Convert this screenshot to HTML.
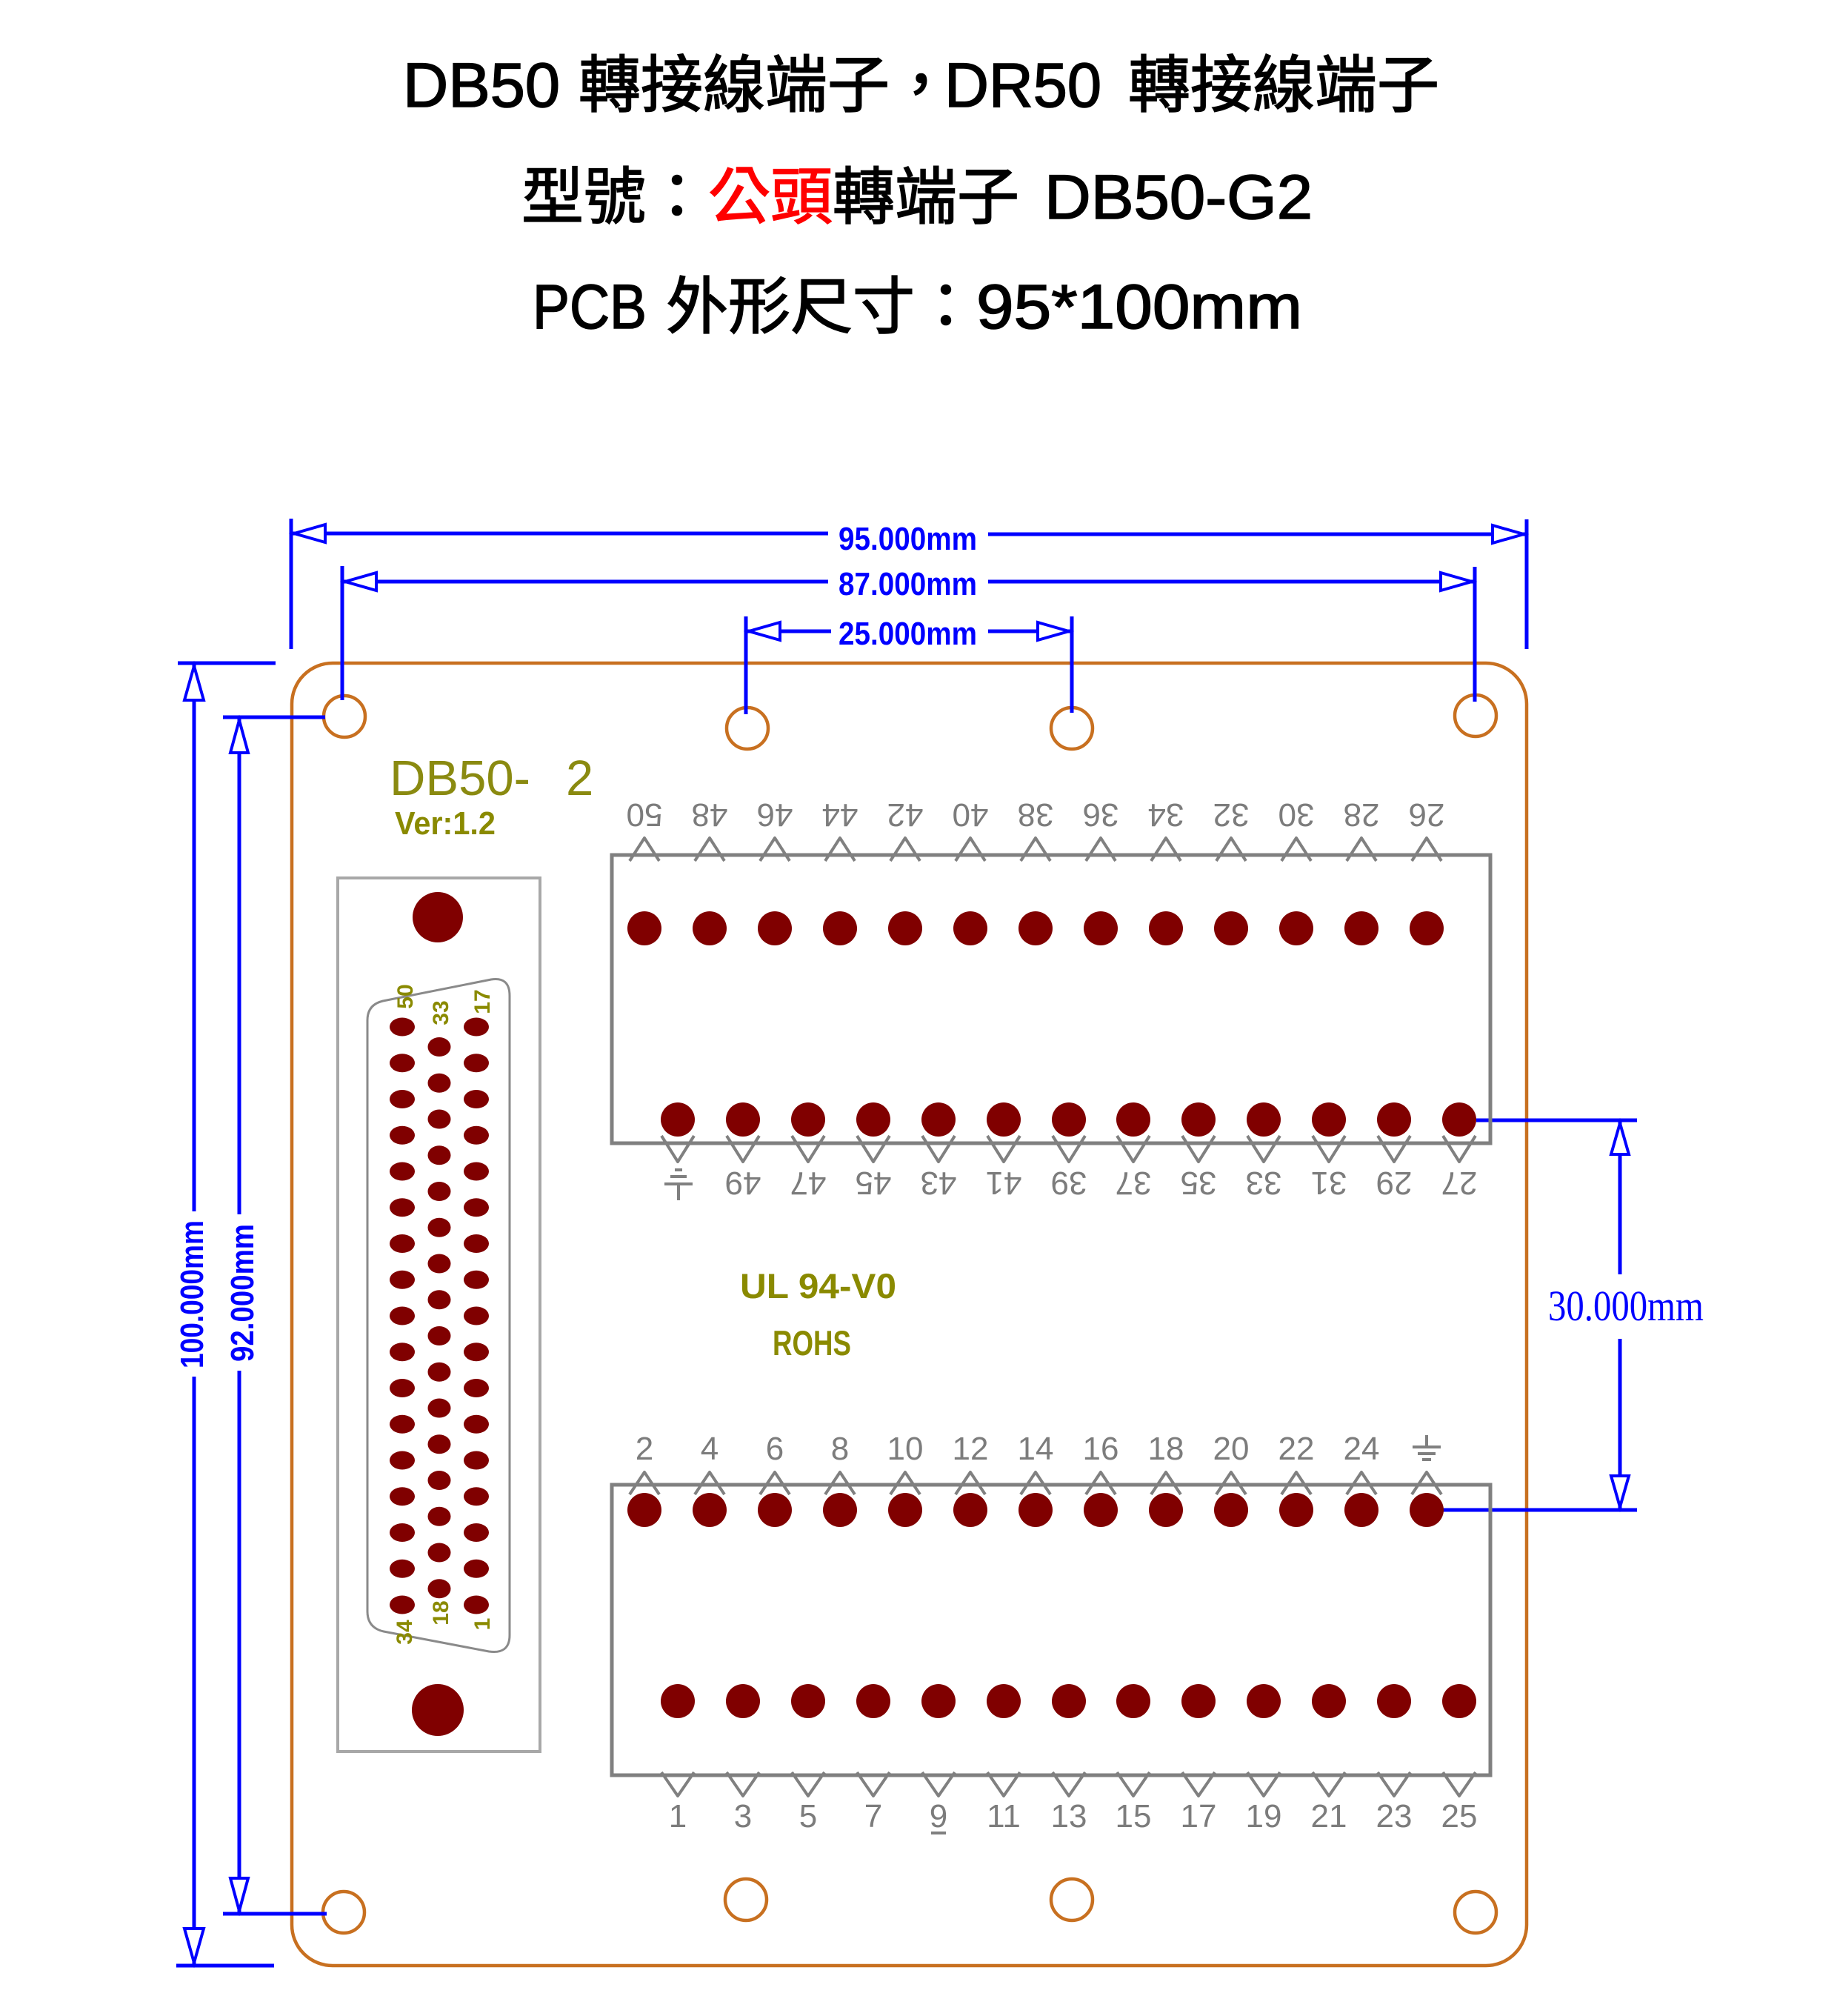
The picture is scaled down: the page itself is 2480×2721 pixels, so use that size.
<!DOCTYPE html>
<html>
<head>
<meta charset="utf-8">
<style>
  html,body{margin:0;padding:0;background:#fff;}
  svg{display:block;}
  .t{font-family:"Liberation Sans","Noto Sans CJK TC",sans-serif;font-size:84px;fill:#000;stroke:#000;stroke-width:1.6px;}
  .lbl{font-family:"Liberation Sans",sans-serif;font-size:44px;fill:#7c7c7c;}
  .dim{font-family:"Liberation Sans",sans-serif;font-size:44px;font-weight:bold;fill:#0000ff;}
  .ol{font-family:"Liberation Sans",sans-serif;fill:#8a8a10;}
  .olb{font-family:"Liberation Sans",sans-serif;font-weight:bold;fill:#8a8a00;}
</style>
</head>
<body>
<svg width="2480" height="2721" viewBox="0 0 2480 2721" xmlns="http://www.w3.org/2000/svg">
<rect x="0" y="0" width="2480" height="2721" fill="#fff"/>

<!-- Titles -->
<text class="t" x="544" y="144" textLength="212" lengthAdjust="spacingAndGlyphs">DB50</text>
<text class="t" x="781" y="144">轉接線端子，</text>
<text class="t" x="1275" y="144" textLength="212" lengthAdjust="spacingAndGlyphs">DR50</text>
<text class="t" x="1523" y="144">轉接線端子</text>
<text class="t" y="295"><tspan x="704">型號：</tspan><tspan fill="#ff0000" stroke="#ff0000">公頭</tspan><tspan>轉端子</tspan></text>
<text class="t" x="1410" y="295" textLength="362" lengthAdjust="spacingAndGlyphs">DB50-G2</text>
<text class="t" x="719" y="443" textLength="154" lengthAdjust="spacingAndGlyphs">PCB</text>
<text class="t" x="899" y="443">外形尺寸：</text>
<text class="t" x="1318" y="443" textLength="440" lengthAdjust="spacingAndGlyphs">95*100mm</text>

<!-- Board outline -->
<rect x="394" y="895" width="1667" height="1758" rx="55" ry="55" fill="none" stroke="#c87020" stroke-width="4.5"/>

<!-- Mounting holes -->
<g fill="none" stroke="#c87020" stroke-width="4.5">
  <circle cx="465" cy="967" r="28"/>
  <circle cx="1009" cy="983" r="28"/>
  <circle cx="1447" cy="983" r="28"/>
  <circle cx="1992" cy="966" r="28"/>
  <circle cx="464" cy="2581" r="28"/>
  <circle cx="1007" cy="2564" r="28"/>
  <circle cx="1447" cy="2564" r="28"/>
  <circle cx="1992" cy="2581" r="28"/>
</g>

<!-- Blue dimensions -->
<g stroke="#0000ff" stroke-width="5" fill="none">
  <line x1="393" y1="700" x2="393" y2="876"/>
  <line x1="2061" y1="701" x2="2061" y2="876"/>
  <line x1="393" y1="720" x2="1118" y2="720"/>
  <line x1="1334" y1="721" x2="2061" y2="721"/>
  <line x1="462" y1="764" x2="462" y2="945"/>
  <line x1="1991" y1="765" x2="1991" y2="947"/>
  <line x1="462" y1="785" x2="1118" y2="785"/>
  <line x1="1334" y1="785" x2="1991" y2="785"/>
  <line x1="1007" y1="832" x2="1007" y2="964"/>
  <line x1="1447" y1="832" x2="1447" y2="962"/>
  <line x1="1007" y1="852" x2="1122" y2="852"/>
  <line x1="1334" y1="852" x2="1447" y2="852"/>
  <line x1="240" y1="895" x2="372" y2="895"/>
  <line x1="238" y1="2653" x2="370" y2="2653"/>
  <line x1="262" y1="895" x2="262" y2="1635"/>
  <line x1="262" y1="1858" x2="262" y2="2653"/>
  <line x1="301" y1="968" x2="439" y2="968"/>
  <line x1="301" y1="2583" x2="441" y2="2583"/>
  <line x1="323" y1="968" x2="323" y2="1639"/>
  <line x1="323" y1="1850" x2="323" y2="2583"/>
  <line x1="1993" y1="1512" x2="2210" y2="1512"/>
  <line x1="1947" y1="2038" x2="2210" y2="2038"/>
  <line x1="2187" y1="1512" x2="2187" y2="1720"/>
  <line x1="2187" y1="1807" x2="2187" y2="2038"/>
</g>
<g stroke="#0000ff" stroke-width="4" fill="#fff" stroke-linejoin="miter">
  <polygon points="397,720 439,708 439,732"/>
  <polygon points="2057,721 2015,709 2015,733"/>
  <polygon points="466,785 508,773 508,797"/>
  <polygon points="1987,785 1945,773 1945,797"/>
  <polygon points="1011,852 1053,840 1053,864"/>
  <polygon points="1443,852 1401,840 1401,864"/>
  <polygon points="262,899 249,945 275,945"/>
  <polygon points="262,2649 249,2603 275,2603"/>
  <polygon points="323,972 311,1016 335,1016"/>
  <polygon points="323,2579 311,2535 335,2535"/>
  <polygon points="2187,1516 2175,1558 2199,1558"/>
  <polygon points="2187,2034 2175,1992 2199,1992"/>
</g>
<text class="dim" x="1132" y="742" textLength="187" lengthAdjust="spacingAndGlyphs">95.000mm</text>
<text class="dim" x="1132" y="803" textLength="187" lengthAdjust="spacingAndGlyphs">87.000mm</text>
<text class="dim" x="1132" y="870" textLength="187" lengthAdjust="spacingAndGlyphs">25.000mm</text>
<text class="dim" font-size="46" transform="translate(258,1747) rotate(-90)" x="-100" y="16" textLength="200" lengthAdjust="spacingAndGlyphs">100.000mm</text>
<text class="dim" font-size="46" transform="translate(326,1745) rotate(-90)" x="-93" y="16" textLength="186" lengthAdjust="spacingAndGlyphs">92.000mm</text>
<text x="2090" y="1782" font-family="Liberation Serif, serif" font-size="58" fill="#0000ff" textLength="210" lengthAdjust="spacingAndGlyphs">30.000mm</text>

<!-- Board silk text -->
<text class="ol" x="526" y="1073" font-size="67" textLength="190" lengthAdjust="spacingAndGlyphs">DB50-</text>
<text class="ol" x="764" y="1073" font-size="67">2</text>
<text class="olb" x="533" y="1126" font-size="44" textLength="136" lengthAdjust="spacingAndGlyphs">Ver:1.2</text>
<text class="olb" x="999" y="1752" font-size="47" textLength="211" lengthAdjust="spacingAndGlyphs">UL 94-V0</text>
<text class="olb" x="1043" y="1829" font-size="47" textLength="106" lengthAdjust="spacingAndGlyphs">ROHS</text>

<!-- DB connector -->
<rect x="456" y="1185" width="273" height="1179" fill="none" stroke="#a8a8a8" stroke-width="4"/>
<circle cx="591" cy="1238" r="34" fill="#800000"/>
<circle cx="591" cy="2308" r="35" fill="#800000"/>
<path d="M496 1377 Q496 1356 517 1351 L663 1322 Q688 1318 688 1344 L688 2207 Q688 2233 660 2229 L518 2202 Q496 2197 496 2175 Z" fill="none" stroke="#8a8a8a" stroke-width="3"/>
<g fill="#800000">
  <ellipse cx="543" cy="1386" rx="17" ry="12.5"/>
  <ellipse cx="543" cy="1434.75" rx="17" ry="12.5"/>
  <ellipse cx="543" cy="1483.5" rx="17" ry="12.5"/>
  <ellipse cx="543" cy="1532.25" rx="17" ry="12.5"/>
  <ellipse cx="543" cy="1581" rx="17" ry="12.5"/>
  <ellipse cx="543" cy="1629.75" rx="17" ry="12.5"/>
  <ellipse cx="543" cy="1678.5" rx="17" ry="12.5"/>
  <ellipse cx="543" cy="1727.25" rx="17" ry="12.5"/>
  <ellipse cx="543" cy="1776" rx="17" ry="12.5"/>
  <ellipse cx="543" cy="1824.75" rx="17" ry="12.5"/>
  <ellipse cx="543" cy="1873.5" rx="17" ry="12.5"/>
  <ellipse cx="543" cy="1922.25" rx="17" ry="12.5"/>
  <ellipse cx="543" cy="1971" rx="17" ry="12.5"/>
  <ellipse cx="543" cy="2019.75" rx="17" ry="12.5"/>
  <ellipse cx="543" cy="2068.5" rx="17" ry="12.5"/>
  <ellipse cx="543" cy="2117.25" rx="17" ry="12.5"/>
  <ellipse cx="543" cy="2166" rx="17" ry="12.5"/>
  <ellipse cx="643" cy="1386" rx="17" ry="12.5"/>
  <ellipse cx="643" cy="1434.75" rx="17" ry="12.5"/>
  <ellipse cx="643" cy="1483.5" rx="17" ry="12.5"/>
  <ellipse cx="643" cy="1532.25" rx="17" ry="12.5"/>
  <ellipse cx="643" cy="1581" rx="17" ry="12.5"/>
  <ellipse cx="643" cy="1629.75" rx="17" ry="12.5"/>
  <ellipse cx="643" cy="1678.5" rx="17" ry="12.5"/>
  <ellipse cx="643" cy="1727.25" rx="17" ry="12.5"/>
  <ellipse cx="643" cy="1776" rx="17" ry="12.5"/>
  <ellipse cx="643" cy="1824.75" rx="17" ry="12.5"/>
  <ellipse cx="643" cy="1873.5" rx="17" ry="12.5"/>
  <ellipse cx="643" cy="1922.25" rx="17" ry="12.5"/>
  <ellipse cx="643" cy="1971" rx="17" ry="12.5"/>
  <ellipse cx="643" cy="2019.75" rx="17" ry="12.5"/>
  <ellipse cx="643" cy="2068.5" rx="17" ry="12.5"/>
  <ellipse cx="643" cy="2117.25" rx="17" ry="12.5"/>
  <ellipse cx="643" cy="2166" rx="17" ry="12.5"/>
  <ellipse cx="593" cy="1413" rx="15.5" ry="13"/>
  <ellipse cx="593" cy="1461.75" rx="15.5" ry="13"/>
  <ellipse cx="593" cy="1510.5" rx="15.5" ry="13"/>
  <ellipse cx="593" cy="1559.25" rx="15.5" ry="13"/>
  <ellipse cx="593" cy="1608" rx="15.5" ry="13"/>
  <ellipse cx="593" cy="1656.75" rx="15.5" ry="13"/>
  <ellipse cx="593" cy="1705.5" rx="15.5" ry="13"/>
  <ellipse cx="593" cy="1754.25" rx="15.5" ry="13"/>
  <ellipse cx="593" cy="1803" rx="15.5" ry="13"/>
  <ellipse cx="593" cy="1851.75" rx="15.5" ry="13"/>
  <ellipse cx="593" cy="1900.5" rx="15.5" ry="13"/>
  <ellipse cx="593" cy="1949.25" rx="15.5" ry="13"/>
  <ellipse cx="593" cy="1998" rx="15.5" ry="13"/>
  <ellipse cx="593" cy="2046.75" rx="15.5" ry="13"/>
  <ellipse cx="593" cy="2095.5" rx="15.5" ry="13"/>
  <ellipse cx="593" cy="2144.25" rx="15.5" ry="13"/>
</g>
<g class="olb" font-size="30" text-anchor="middle">
  <text transform="translate(546,1345) rotate(-90)" y="11">50</text>
  <text transform="translate(594,1367) rotate(-90)" y="11">33</text>
  <text transform="translate(650,1352) rotate(-90)" y="11">17</text>
  <text transform="translate(545,2203) rotate(-90)" y="11">34</text>
  <text transform="translate(594,2177) rotate(-90)" y="11">18</text>
  <text transform="translate(650,2192) rotate(-90)" y="11">1</text>
</g>

<!-- Terminal blocks -->
<rect x="826" y="1154" width="1186" height="389" fill="none" stroke="#808080" stroke-width="5"/>
<rect x="826" y="2004" width="1186" height="392" fill="none" stroke="#808080" stroke-width="5"/>

<!-- Λ / V marks -->
<g fill="none" stroke="#808080" stroke-width="4" stroke-linejoin="round">
  <polyline points="850,1162 870,1131 890,1162"/>
  <polyline points="938,1162 958,1131 978,1162"/>
  <polyline points="1026,1162 1046,1131 1066,1162"/>
  <polyline points="1114,1162 1134,1131 1154,1162"/>
  <polyline points="1202,1162 1222,1131 1242,1162"/>
  <polyline points="1290,1162 1310,1131 1330,1162"/>
  <polyline points="1378,1162 1398,1131 1418,1162"/>
  <polyline points="1466,1162 1486,1131 1506,1162"/>
  <polyline points="1554,1162 1574,1131 1594,1162"/>
  <polyline points="1642,1162 1662,1131 1682,1162"/>
  <polyline points="1730,1162 1750,1131 1770,1162"/>
  <polyline points="1818,1162 1838,1131 1858,1162"/>
  <polyline points="1906,1162 1926,1131 1946,1162"/>
  <polyline points="893,1533 915,1568 937,1533"/>
  <polyline points="981,1533 1003,1568 1025,1533"/>
  <polyline points="1069,1533 1091,1568 1113,1533"/>
  <polyline points="1157,1533 1179,1568 1201,1533"/>
  <polyline points="1245,1533 1267,1568 1289,1533"/>
  <polyline points="1333,1533 1355,1568 1377,1533"/>
  <polyline points="1421,1533 1443,1568 1465,1533"/>
  <polyline points="1508,1533 1530,1568 1552,1533"/>
  <polyline points="1596,1533 1618,1568 1640,1533"/>
  <polyline points="1684,1533 1706,1568 1728,1533"/>
  <polyline points="1772,1533 1794,1568 1816,1533"/>
  <polyline points="1860,1533 1882,1568 1904,1533"/>
  <polyline points="1948,1533 1970,1568 1992,1533"/>
  <polyline points="850,2017 870,1987 890,2017"/>
  <polyline points="938,2017 958,1987 978,2017"/>
  <polyline points="1026,2017 1046,1987 1066,2017"/>
  <polyline points="1114,2017 1134,1987 1154,2017"/>
  <polyline points="1202,2017 1222,1987 1242,2017"/>
  <polyline points="1290,2017 1310,1987 1330,2017"/>
  <polyline points="1378,2017 1398,1987 1418,2017"/>
  <polyline points="1466,2017 1486,1987 1506,2017"/>
  <polyline points="1554,2017 1574,1987 1594,2017"/>
  <polyline points="1642,2017 1662,1987 1682,2017"/>
  <polyline points="1730,2017 1750,1987 1770,2017"/>
  <polyline points="1818,2017 1838,1987 1858,2017"/>
  <polyline points="1906,2017 1926,1987 1946,2017"/>
  <polyline points="893,2392 915,2424 937,2392"/>
  <polyline points="981,2392 1003,2424 1025,2392"/>
  <polyline points="1069,2392 1091,2424 1113,2392"/>
  <polyline points="1157,2392 1179,2424 1201,2392"/>
  <polyline points="1245,2392 1267,2424 1289,2392"/>
  <polyline points="1333,2392 1355,2424 1377,2392"/>
  <polyline points="1421,2392 1443,2424 1465,2392"/>
  <polyline points="1508,2392 1530,2424 1552,2392"/>
  <polyline points="1596,2392 1618,2424 1640,2392"/>
  <polyline points="1684,2392 1706,2424 1728,2392"/>
  <polyline points="1772,2392 1794,2424 1816,2392"/>
  <polyline points="1860,2392 1882,2424 1904,2392"/>
  <polyline points="1948,2392 1970,2424 1992,2392"/>
  <line x1="911" y1="1579" x2="921" y2="1579"/>
  <line x1="905" y1="1588" x2="927" y2="1588"/>
  <line x1="897" y1="1598" x2="935" y2="1598"/>
  <line x1="916" y1="1598" x2="916" y2="1620"/>
  <line x1="1926" y1="1937" x2="1926" y2="1953"/>
  <line x1="1907" y1="1953" x2="1945" y2="1953"/>
  <line x1="1914" y1="1962" x2="1938" y2="1962"/>
  <line x1="1920" y1="1970" x2="1932" y2="1970"/>
  <line x1="1257" y1="2474" x2="1277" y2="2474"/>
</g>

<!-- Pads -->
<g fill="#800000">
  <circle cx="870" cy="1253" r="23"/><circle cx="958" cy="1253" r="23"/><circle cx="1046" cy="1253" r="23"/><circle cx="1134" cy="1253" r="23"/><circle cx="1222" cy="1253" r="23"/><circle cx="1310" cy="1253" r="23"/><circle cx="1398" cy="1253" r="23"/><circle cx="1486" cy="1253" r="23"/><circle cx="1574" cy="1253" r="23"/><circle cx="1662" cy="1253" r="23"/><circle cx="1750" cy="1253" r="23"/><circle cx="1838" cy="1253" r="23"/><circle cx="1926" cy="1253" r="23"/>
  <circle cx="915" cy="1511" r="23"/><circle cx="1003" cy="1511" r="23"/><circle cx="1091" cy="1511" r="23"/><circle cx="1179" cy="1511" r="23"/><circle cx="1267" cy="1511" r="23"/><circle cx="1355" cy="1511" r="23"/><circle cx="1443" cy="1511" r="23"/><circle cx="1530" cy="1511" r="23"/><circle cx="1618" cy="1511" r="23"/><circle cx="1706" cy="1511" r="23"/><circle cx="1794" cy="1511" r="23"/><circle cx="1882" cy="1511" r="23"/><circle cx="1970" cy="1511" r="23"/>
  <circle cx="870" cy="2038" r="23"/><circle cx="958" cy="2038" r="23"/><circle cx="1046" cy="2038" r="23"/><circle cx="1134" cy="2038" r="23"/><circle cx="1222" cy="2038" r="23"/><circle cx="1310" cy="2038" r="23"/><circle cx="1398" cy="2038" r="23"/><circle cx="1486" cy="2038" r="23"/><circle cx="1574" cy="2038" r="23"/><circle cx="1662" cy="2038" r="23"/><circle cx="1750" cy="2038" r="23"/><circle cx="1838" cy="2038" r="23"/><circle cx="1926" cy="2038" r="23"/>
  <circle cx="915" cy="2296" r="23"/><circle cx="1003" cy="2296" r="23"/><circle cx="1091" cy="2296" r="23"/><circle cx="1179" cy="2296" r="23"/><circle cx="1267" cy="2296" r="23"/><circle cx="1355" cy="2296" r="23"/><circle cx="1443" cy="2296" r="23"/><circle cx="1530" cy="2296" r="23"/><circle cx="1618" cy="2296" r="23"/><circle cx="1706" cy="2296" r="23"/><circle cx="1794" cy="2296" r="23"/><circle cx="1882" cy="2296" r="23"/><circle cx="1970" cy="2296" r="23"/>
</g>

<!-- Pin labels -->
<g class="lbl" text-anchor="middle">
  <text transform="rotate(180 870 1101)" x="870" y="1117">50</text>
  <text transform="rotate(180 958 1101)" x="958" y="1117">48</text>
  <text transform="rotate(180 1046 1101)" x="1046" y="1117">46</text>
  <text transform="rotate(180 1134 1101)" x="1134" y="1117">44</text>
  <text transform="rotate(180 1222 1101)" x="1222" y="1117">42</text>
  <text transform="rotate(180 1310 1101)" x="1310" y="1117">40</text>
  <text transform="rotate(180 1398 1101)" x="1398" y="1117">38</text>
  <text transform="rotate(180 1486 1101)" x="1486" y="1117">36</text>
  <text transform="rotate(180 1574 1101)" x="1574" y="1117">34</text>
  <text transform="rotate(180 1662 1101)" x="1662" y="1117">32</text>
  <text transform="rotate(180 1750 1101)" x="1750" y="1117">30</text>
  <text transform="rotate(180 1838 1101)" x="1838" y="1117">28</text>
  <text transform="rotate(180 1926 1101)" x="1926" y="1117">26</text>

  <text transform="rotate(180 1003 1598)" x="1003" y="1614">49</text>
  <text transform="rotate(180 1091 1598)" x="1091" y="1614">47</text>
  <text transform="rotate(180 1179 1598)" x="1179" y="1614">45</text>
  <text transform="rotate(180 1267 1598)" x="1267" y="1614">43</text>
  <text transform="rotate(180 1355 1598)" x="1355" y="1614">41</text>
  <text transform="rotate(180 1443 1598)" x="1443" y="1614">39</text>
  <text transform="rotate(180 1530 1598)" x="1530" y="1614">37</text>
  <text transform="rotate(180 1618 1598)" x="1618" y="1614">35</text>
  <text transform="rotate(180 1706 1598)" x="1706" y="1614">33</text>
  <text transform="rotate(180 1794 1598)" x="1794" y="1614">31</text>
  <text transform="rotate(180 1882 1598)" x="1882" y="1614">29</text>
  <text transform="rotate(180 1970 1598)" x="1970" y="1614">27</text>

  <text x="870" y="1970">2</text>
  <text x="958" y="1970">4</text>
  <text x="1046" y="1970">6</text>
  <text x="1134" y="1970">8</text>
  <text x="1222" y="1970">10</text>
  <text x="1310" y="1970">12</text>
  <text x="1398" y="1970">14</text>
  <text x="1486" y="1970">16</text>
  <text x="1574" y="1970">18</text>
  <text x="1662" y="1970">20</text>
  <text x="1750" y="1970">22</text>
  <text x="1838" y="1970">24</text>

  <text x="915" y="2466">1</text>
  <text x="1003" y="2466">3</text>
  <text x="1091" y="2466">5</text>
  <text x="1179" y="2466">7</text>
  <text x="1267" y="2466">9</text>
  <text x="1355" y="2466">11</text>
  <text x="1443" y="2466">13</text>
  <text x="1530" y="2466">15</text>
  <text x="1618" y="2466">17</text>
  <text x="1706" y="2466">19</text>
  <text x="1794" y="2466">21</text>
  <text x="1882" y="2466">23</text>
  <text x="1970" y="2466">25</text>
</g>
</svg>
</body>
</html>
